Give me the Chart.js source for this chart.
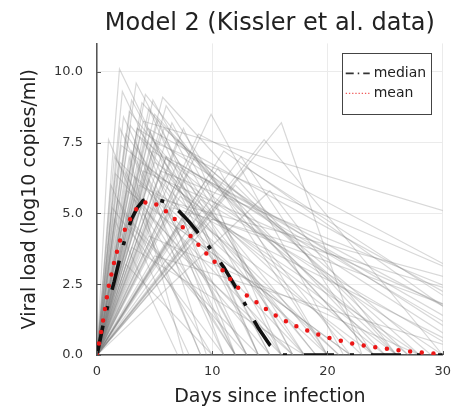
<!DOCTYPE html>
<html>
<head>
<meta charset="utf-8">
<script src="https://cdn.jsdelivr.net/npm/chart.js@4/dist/chart.umd.min.js"></script>
<style>
    html, body { margin: 0; padding: 0; background: #fff; }
    canvas { display: block; }
</style>
</head>
<body>
<canvas id="viralLoadChart" width="460" height="410"></canvas>
<script>
// 축 눈금
const xTicks = [0, 10, 20, 30];
const yTicks = [0, 2.5, 5, 7.5, 10];

// 개별 궤적: 정점 일자, 정점 바이러스량, 소멸 일자
const peakDays = [
    1.0, 1.95, 1.5, 2.0, 2.5, 1.2, 2.2, 3.0, 2.8, 1.8,
    2.5, 3.0, 2.0, 1.5, 2.6, 4.0, 4.85, 4.5, 3.5, 5.0,
    4.2, 3.8, 5.5, 4.5, 3.2, 5.0, 6.0, 4.8, 3.5, 5.2,
    4.0, 6.0, 5.8, 3.0, 4.4, 5.5, 3.6, 6.5, 4.2, 9.9,
    7.0, 8.0, 7.5, 8.5, 6.8, 9.0, 10.5, 11.0, 12.0, 7.8,
    8.8, 6.5, 10.0, 12.5, 13.0, 16.0, 14.5, 15.0, 3.0, 4.5,
    2.5, 6.0, 5.0, 7.0, 8.0, 5.0, 4.0, 6.0, 3.5, 5.5,
    7.0, 2.3, 3.4, 2.8, 4.6, 3.9, 1.6, 2.1, 5.3, 3.3,
    4.9, 2.4, 6.2, 7.2, 9.5, 3.7, 2.9, 4.3, 1.3, 5.7
];
const peakLoads = [
    7.6, 10.1, 7.0, 8.0, 7.8, 6.0, 9.3, 9.0, 8.6, 5.5,
    6.5, 7.2, 6.8, 4.8, 5.8, 8.25, 9.0, 8.7, 8.0, 8.5,
    7.5, 6.8, 7.8, 6.2, 5.5, 6.8, 8.8, 7.2, 7.4, 5.8,
    5.0, 7.0, 8.0, 4.5, 8.0, 6.5, 6.0, 8.2, 9.2, 8.5,
    7.6, 6.5, 8.0, 7.0, 6.0, 5.5, 6.6, 7.2, 6.0, 5.0,
    7.8, 5.2, 4.8, 7.0, 6.6, 8.2, 7.6, 5.8, 3.8, 4.2,
    3.2, 4.0, 3.5, 4.5, 3.8, 7.5, 6.5, 7.0, 8.0, 5.5,
    6.8, 8.4, 9.6, 7.0, 7.9, 8.9, 6.4, 7.4, 8.3, 6.3,
    5.2, 5.0, 6.4, 5.6, 6.2, 7.7, 8.1, 6.6, 5.2, 9.1
];
const clearDays = [
    9, 14, 12, 11, 16, 8, 13, 15, 20, 10,
    9, 12, 18, 7, 22, 72, 17, 14, 19, 24,
    11, 26, 18, 13, 16, 30, 20, 35, 9.5, 21,
    12, 15, 28, 14, 40, 45, 33, 17, 22, 21.4,
    25, 38, 16, 29, 19, 32, 20, 36, 27, 24,
    45, 50, 42, 24, 38, 23, 30, 26, 18, 28,
    10, 17, 33, 22, 13, 48, 40, 36, 34, 55,
    33, 12, 16, 7.5, 12, 24, 15, 25, 14, 20,
    17, 13, 23, 28, 26, 27, 18, 21, 11, 26
];

// 요약 곡선 (중앙값, 평균)
const summaryDays = [
    0, 0.5, 1, 1.5, 2, 2.5, 3, 3.5, 4, 4.5, 5, 5.5, 6, 6.5, 7, 7.5, 8, 8.5, 9, 9.5, 10,
    11, 12, 13, 14, 15, 16, 17, 18, 19, 20, 21, 22, 23, 24, 25, 26, 27, 28, 29, 30
];
const medianLoad = [
    0, 1.0, 1.85, 2.6, 3.45, 4.2, 4.8, 5.2, 5.45, 5.52, 5.5, 5.45, 5.4, 5.28, 5.12, 4.92, 4.7, 4.45, 4.2, 3.95, 3.65,
    3.1, 2.42, 1.68, 0.95, 0.35, 0, 0, 0, 0, 0, 0, 0, 0, 0, 0, 0, 0, 0, 0, 0
];
const meanLoad = [
    0, 1.15, 2.4, 3.3, 4.05, 4.5, 4.9, 5.2, 5.36, 5.42, 5.35, 5.22, 5.07, 4.9, 4.7, 4.48, 4.25, 4.02, 3.8, 3.58, 3.38,
    2.95, 2.47, 2.1, 1.82, 1.52, 1.28, 1.06, 0.9, 0.75, 0.62, 0.52, 0.42, 0.34, 0.28, 0.23, 0.18, 0.13, 0.09, 0.06, 0.04
];

const FONT = 'DejaVu Sans';
const AXIS_COLOR = '#555555';
const TEXT_COLOR = '#333333';

const toPoints = (xs, ys) => xs.map((x, i) => ({ x: x, y: ys[i] }));

// 개별 궤적: 0일에 0에서 시작해 정점까지 오른 뒤 소멸 일자에 0으로 떨어짐
const trajectorySets = peakDays.map((tp, i) => ({
    data: [{ x: 0, y: 0 }, { x: tp, y: peakLoads[i] }, { x: clearDays[i], y: 0 }],
    borderColor: 'rgba(125, 125, 125, 0.3)',
    borderWidth: 1.2,
    pointRadius: 0
}));

// 0번 데이터셋이 가장 위에 그려짐
const datasets = [
    {
        label: 'mean',
        data: toPoints(summaryDays, meanLoad),
        borderColor: 'rgb(236, 22, 22)',
        borderWidth: 4.5,
        borderDash: [0, 11.7],
        borderCapStyle: 'round',
        pointRadius: 0
    },
    {
        label: 'median',
        data: toPoints(summaryDays, medianLoad),
        borderColor: '#111111',
        borderWidth: 3.6,
        borderDash: [30, 16, 4, 17],
        borderCapStyle: 'butt',
        pointRadius: 0
    }
].concat(trajectorySets);

// 축 안쪽으로 짧은 눈금 표시
const innerTicks = {
    id: 'innerTicks',
    afterDatasetsDraw(chart) {
        const { ctx, chartArea, scales } = chart;
        ctx.save();
        ctx.strokeStyle = AXIS_COLOR;
        ctx.lineWidth = 1;
        ctx.beginPath();
        xTicks.forEach(v => {
            const px = Math.round(scales.x.getPixelForValue(v)) + 0.5;
            ctx.moveTo(px, chartArea.bottom);
            ctx.lineTo(px, chartArea.bottom - 4);
        });
        yTicks.forEach(v => {
            const py = Math.round(scales.y.getPixelForValue(v)) + 0.5;
            ctx.moveTo(chartArea.left, py);
            ctx.lineTo(chartArea.left + 4, py);
        });
        ctx.stroke();
        ctx.restore();
    }
};

// 오른쪽 위 범례 상자
const boxLegend = {
    id: 'boxLegend',
    afterDraw(chart) {
        const { ctx, chartArea } = chart;
        const w = 89, h = 61;
        const left = chartArea.right - 12 - w;
        const top = chartArea.top + 10;
        ctx.save();
        ctx.fillStyle = '#ffffff';
        ctx.fillRect(left, top, w, h);
        ctx.strokeStyle = '#444444';
        ctx.lineWidth = 1;
        ctx.strokeRect(Math.round(left) + 0.5, Math.round(top) + 0.5, w, h);

        const rows = [
            { ds: chart.data.datasets[1], y: top + 20, dash: [8, 4, 1.5, 4], width: 1.6, color: '#333333' },
            { ds: chart.data.datasets[0], y: top + 40, dash: [1.3, 1.9], width: 1.2, color: 'rgb(240, 90, 90)' }
        ];
        rows.forEach(r => {
            ctx.beginPath();
            ctx.setLineDash(r.dash);
            ctx.strokeStyle = r.color;
            ctx.lineWidth = r.width;
            ctx.moveTo(left + 4, r.y);
            ctx.lineTo(left + 28, r.y);
            ctx.stroke();
            ctx.setLineDash([]);
            ctx.fillStyle = '#222222';
            ctx.font = '14px "' + FONT + '"';
            ctx.textBaseline = 'middle';
            ctx.textAlign = 'left';
            ctx.fillText(r.ds.label, left + 32, r.y);
        });
        ctx.restore();
    }
};

const ctx = document.getElementById('viralLoadChart').getContext('2d');
new Chart(ctx, {
    type: 'line',
    data: { datasets: datasets },
    options: {
        responsive: false,
        devicePixelRatio: 1,
        animation: false,
        layout: { padding: { left: 5, right: 9, top: 3, bottom: 0 } },
        plugins: {
            legend: { display: false },
            tooltip: { enabled: false },
            title: {
                display: true,
                text: 'Model 2 (Kissler et al. data)',
                fullSize: false,
                color: '#222222',
                font: { family: FONT, size: 24, weight: 'normal' },
                padding: { top: 6, bottom: 5.6 }
            }
        },
        scales: {
            x: {
                type: 'linear',
                min: 0,
                max: 30,
                afterBuildTicks: scale => { scale.ticks = xTicks.map(v => ({ value: v })); },
                afterFit: scale => { scale.height = 55; },
                grid: { color: '#ebebeb', lineWidth: 1, drawTicks: false },
                border: { color: AXIS_COLOR, width: 1.5 },
                ticks: {
                    padding: 9,
                    color: TEXT_COLOR,
                    font: { family: FONT, size: 13 },
                    maxRotation: 0
                },
                title: {
                    display: true,
                    text: 'Days since infection',
                    color: '#222222',
                    font: { family: FONT, size: 19 },
                    padding: { top: 0, bottom: 2 }
                }
            },
            y: {
                type: 'linear',
                min: 0,
                max: 11,
                afterBuildTicks: scale => { scale.ticks = yTicks.map(v => ({ value: v })); },
                afterFit: scale => { scale.width = 92; },
                grid: { color: '#ebebeb', lineWidth: 1, drawTicks: false },
                border: { color: AXIS_COLOR, width: 1.5 },
                ticks: {
                    padding: 14,
                    color: TEXT_COLOR,
                    font: { family: FONT, size: 13 },
                    callback: v => v.toFixed(1)
                },
                title: {
                    display: true,
                    text: 'Viral load (log10 copies/ml)',
                    color: '#222222',
                    font: { family: FONT, size: 19 },
                    padding: { top: 13.6, bottom: 0 }
                }
            }
        }
    },
    plugins: [innerTicks, boxLegend]
});
</script>
</body>
</html>
